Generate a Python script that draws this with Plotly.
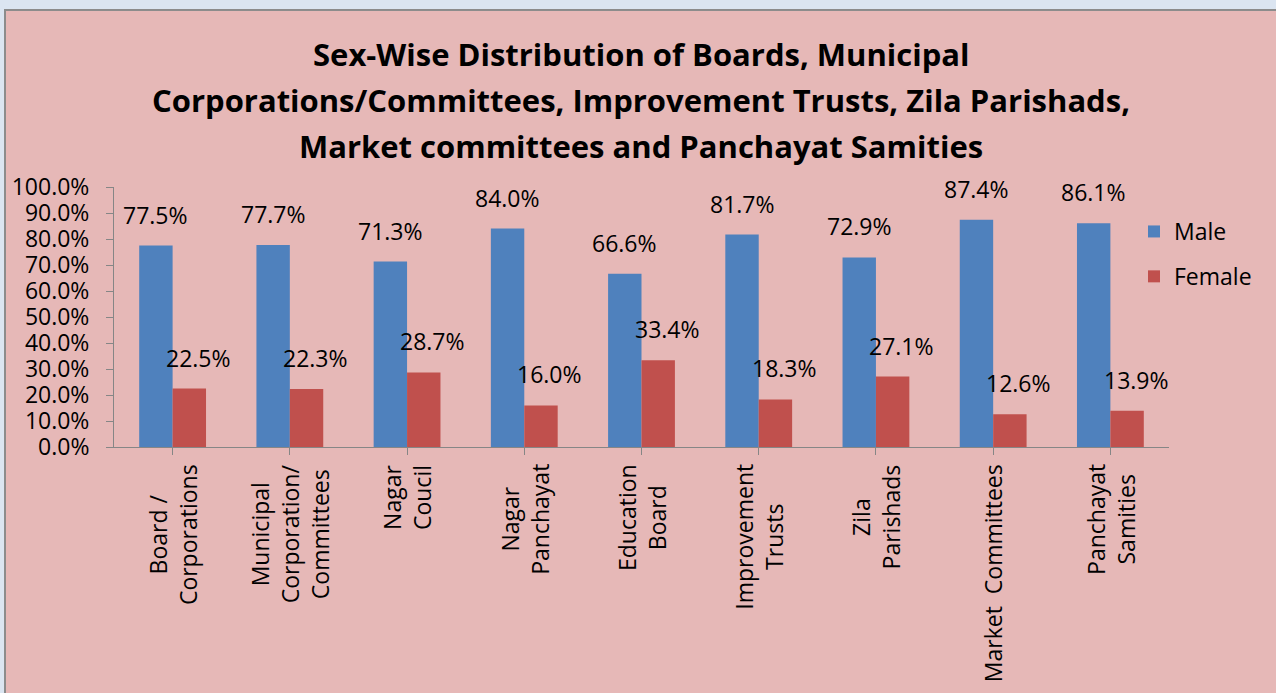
import plotly.graph_objects as go

categories = ["Board /<br>Corporations", "Municipal<br>Corporation/<br>Committees", "Nagar<br>Coucil",
              "Nagar<br>Panchayat", "Education<br>Board", "Improvement<br>Trusts", "Zila<br>Parishads",
              "Market  Committees", "Panchayat<br>Samities"]
male = [0.775, 0.777, 0.713, 0.840, 0.666, 0.817, 0.729, 0.874, 0.861]
female = [0.225, 0.223, 0.287, 0.160, 0.334, 0.183, 0.271, 0.126, 0.139]
title_lines = ["Sex-Wise Distribution of Boards, Municipal",
               "Corporations/Committees, Improvement Trusts, Zila Parishads,",
               "Market committees and Panchayat Samities"]

FONT = "Open Sans"
FS = 23
W, H = 1276, 693
L, R, T, B = 114, 107, 187, 246
PW, PH = W - L - R, H - T - B

def px2x(px):
    return (px - L) / PW

def py2y(py):
    return (H - B - py) / PH

x_idx = list(range(len(categories)))
fig = go.Figure()
fig.add_trace(go.Bar(x=x_idx, y=male, name="Male", marker=dict(color="#4f81bd", line=dict(width=0)), legendgroup="m"))
fig.add_trace(go.Bar(x=x_idx, y=female, name="Female", marker=dict(color="#c0504d", line=dict(width=0)), legendgroup="f"))

bargap = 0.43
half = (1 - bargap) / 4
ann = []
for i, v in enumerate(male):
    ann.append(dict(x=i - half, y=v, xref="x", yref="y", text=f"{v*100:.1f}%", showarrow=False,
                    yanchor="bottom", yshift=13, font=dict(size=FS, color="black", family=FONT)))
for i, v in enumerate(female):
    ann.append(dict(x=i + half, y=v, xref="x", yref="y", text=f"{v*100:.1f}%", showarrow=False,
                    yanchor="bottom", yshift=13, xshift=9, font=dict(size=FS, color="black", family=FONT)))
for i, c in enumerate(categories):
    ann.append(dict(x=i, y=0, xref="x", yref="paper", text=c, showarrow=False, textangle=-90,
                    yanchor="top", yshift=-15, align="center",
                    font=dict(size=FS, color="black", family=FONT)))
for j, t in enumerate(title_lines):
    ann.append(dict(x=px2x(641), y=py2y(54 + 46 * j), xref="paper", yref="paper", text=f"<b>{t}</b>",
                    showarrow=False, xanchor="center", yanchor="middle",
                    font=dict(size=31, color="black", family=FONT)))

fig.update_layout(
    width=W, height=H,
    margin=dict(l=L, r=R, t=T, b=B),
    paper_bgcolor="#dbe5f1",
    plot_bgcolor="rgba(0,0,0,0)",
    barmode="group", bargap=bargap, bargroupgap=0,
    showlegend=True,
    legend=dict(x=px2x(1134), y=py2y(210), xanchor="left", yanchor="top",
                font=dict(size=FS, family=FONT, color="black"), bgcolor="rgba(0,0,0,0)",
                tracegroupgap=12, itemwidth=30),
    annotations=ann,
    shapes=[dict(type="rect", xref="paper", yref="paper", x0=px2x(5), x1=px2x(1290),
                 y0=py2y(720), y1=py2y(10), fillcolor="#e6b8b7",
                 line=dict(color="#8c8c8c", width=2), layer="below")],
    font=dict(family=FONT, color="black"),
)
fig.update_xaxes(range=[-0.5, len(categories) - 0.5], showticklabels=False, tickson="boundaries",
                 ticks="outside", ticklen=7, tickcolor="#868686", showline=True, linecolor="#868686",
                 linewidth=1, showgrid=False, zeroline=False, tickvals=x_idx)
fig.update_yaxes(range=[0, 1], dtick=0.1, tickformat=".1%", ticks="outside", ticklen=7,
                 tickcolor="#868686", showline=True, linecolor="#868686", linewidth=1,
                 showgrid=False, zeroline=False, tickfont=dict(size=FS, family=FONT, color="black"),
                 ticklabelstandoff=12)
fig.write_html("out.html", config={"displayModeBar": False},
               post_script="document.body.style.margin='0px';document.body.style.background='#dbe5f1';")
